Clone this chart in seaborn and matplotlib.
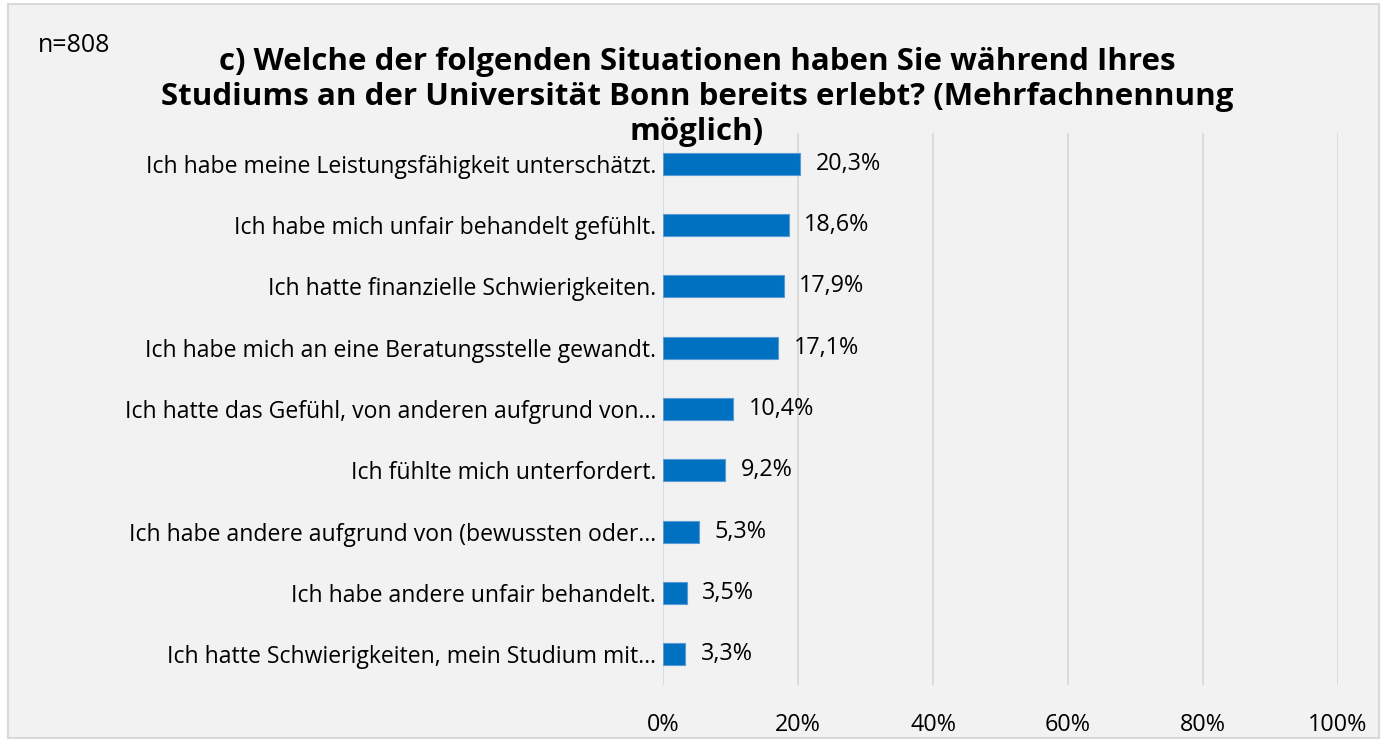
import matplotlib
matplotlib.use("Agg")
import matplotlib.pyplot as plt
import seaborn as sns
import pandas as pd
from matplotlib.patches import Rectangle

categories = [
    "Ich habe meine Leistungsfähigkeit unterschätzt.",
    "Ich habe mich unfair behandelt gefühlt.",
    "Ich hatte finanzielle Schwierigkeiten.",
    "Ich habe mich an eine Beratungsstelle gewandt.",
    "Ich hatte das Gefühl, von anderen aufgrund von…",
    "Ich fühlte mich unterfordert.",
    "Ich habe andere aufgrund von (bewussten oder…",
    "Ich habe andere unfair behandelt.",
    "Ich hatte Schwierigkeiten, mein Studium mit…",
]
values = [20.3, 18.6, 17.9, 17.1, 10.4, 9.2, 5.3, 3.5, 3.3]
xticks = [0, 20, 40, 60, 80, 100]

df = pd.DataFrame({"label": categories, "pct": values})

sns.set_theme(style="white")
plt.rcParams['font.family'] = ['Open Sans', 'DejaVu Sans']
plt.rcParams['text.color'] = "#000000"
plt.rcParams['xtick.color'] = "#000000"
plt.rcParams['ytick.color'] = "#000000"

bg = "#f2f2f2"
fig = plt.figure(figsize=(13.87, 7.41), dpi=100, facecolor="white")
fig.patches.append(Rectangle((0.006, 0.004), 0.988, 0.99, transform=fig.transFigure,
                             facecolor=bg, edgecolor="#d9d9d9", linewidth=1.5, zorder=-10))
ax = fig.add_axes([0.478, 0.0756, 0.4867, 0.7449])
ax.set_facecolor(bg)

sns.barplot(data=df, x="pct", y="label", ax=ax, color="#0070c0", width=0.36,
            edgecolor="#5b9bd5", linewidth=0.8, saturation=1)

for i, v in enumerate(values):
    ax.text(v + 2.3, i, f"{v:.1f}%".replace(".", ","), va="center", ha="left",
            fontsize=16.8, color="#000000")

ax.set_xlim(0, 100)
ax.set_xticks(xticks)
ax.set_xticklabels([f"{t}%" for t in xticks], fontsize=16.8)
ax.tick_params(axis="y", labelsize=16.6, length=0, pad=5)
ax.tick_params(axis="x", length=0, pad=20)
ax.set_xlabel("")
ax.set_ylabel("")
for s in ax.spines.values():
    s.set_visible(False)
ax.xaxis.grid(True, color="#d9d9d9", linewidth=1.3)
ax.set_axisbelow(True)

fig.text(0.5025, 0.869, "c) Welche der folgenden Situationen haben Sie während Ihres\n"
         "Studiums an der Universität Bonn bereits erlebt? (Mehrfachnennung\n"
         "möglich)", ha="center", va="center", fontsize=22.5, fontweight="bold",
         linespacing=1.2)
fig.text(0.027, 0.939, "n=808", ha="left", va="center", fontsize=18)

fig.savefig("out.png", dpi=100, facecolor="white")
